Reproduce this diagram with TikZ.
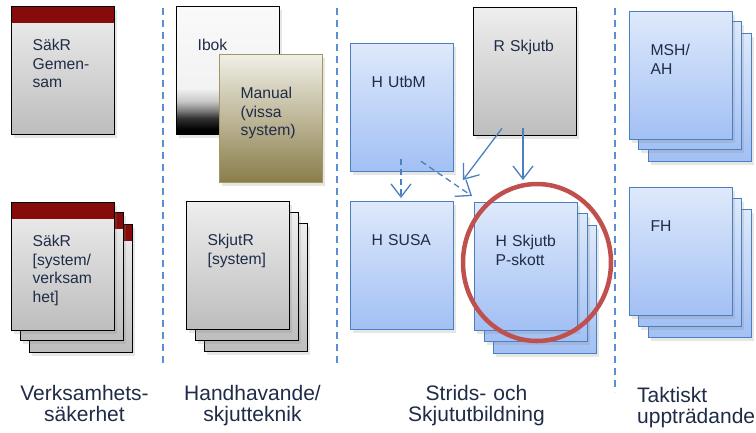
\documentclass[tikz,border=0pt]{standalone}
\usepackage{fontspec}
\setmainfont{Liberation Sans}
\usetikzlibrary{arrows.meta, shadows, shapes.geometric}

\definecolor{txtcol}{HTML}{1F2C47}
\definecolor{grayTop}{HTML}{EEEEEE}
\definecolor{grayBot}{HTML}{BDBDBD}
\definecolor{sakred}{HTML}{870B0B}
\definecolor{blueTop}{HTML}{DEE9FB}
\definecolor{blueBot}{HTML}{A2C0F4}
\definecolor{blueline}{HTML}{4C7FBE}
\definecolor{oliveTop}{HTML}{F0EFE6}
\definecolor{oliveBot}{HTML}{8A7D4A}
\definecolor{oliveline}{HTML}{A1985F}
\definecolor{sepcol}{HTML}{5A8ED2}
\definecolor{ringred}{HTML}{C0504D}
\colorlet{ibA}{black!80}
\colorlet{ibB}{black!50}
\colorlet{ibC}{black!22}
\colorlet{ibD}{black!5}
\colorlet{ibE}{black!2}
\pgfdeclareverticalshading{ibokshade}{100bp}{color(0bp)=(black); color(27bp)=(black); color(31.5bp)=(ibA); color(34.5bp)=(ibB); color(38bp)=(ibC); color(43bp)=(ibD); color(75bp)=(ibE); color(100bp)=(ibE)}

\newcommand\boxfont{\fontsize{15.7pt}{18.5pt}\selectfont}
\newcommand\catfont{\fontsize{21pt}{21.5pt}\selectfont}

\tikzset{
  doc/.style={rectangle, anchor=north west, inner xsep=21pt, inner ysep=0pt, text width=61pt, align=left,
    text height=44pt, text depth=84pt, font=\boxfont, text=txtcol, line width=1.3pt,
    drop shadow={shadow xshift=2.5pt, shadow yshift=-3pt, opacity=0.2}},
  graydoc/.style={doc, draw=black, top color=grayTop, bottom color=grayBot},
  sakrdoc/.style={graydoc, path picture={\fill[sakred] (path picture bounding box.north west) rectangle ([yshift=-16pt]path picture bounding box.north east);}},
  bluedoc/.style={doc, draw=blueline, top color=blueTop, bottom color=blueBot},
  olivedoc/.style={doc, draw=oliveline, top color=oliveTop, bottom color=oliveBot},
  ibokdoc/.style={doc, draw=black, shading=ibokshade},
  cat/.style={anchor=base, text width=170pt, align=center, inner sep=0pt, font=\catfont, text=txtcol},
  sep/.style={draw=sepcol, line width=1.6pt, dash pattern=on 7pt off 5pt},
  flow/.style={draw=blueline, line width=1.3pt, -{Straight Barb[length=13pt, width=20pt, line width=1.3pt]}},
  flowdash/.style={flow, dash pattern=on 6pt off 4pt}
}

\begin{document}
\begin{tikzpicture}[x=1pt, y=-1pt]
  \useasboundingbox (0,0) rectangle (756,432);

  \draw[sep] (163,8) -- (163,365);
  \draw[sep] (337,8) -- (337,363);
  \draw[sep] (615,8) -- (615,392);

  \node[sakrdoc] (sakrGem) at (11,6) {S\"akR\\Gemen-\\sam};
  \node[sakrdoc] (sakrSys3) at (29,224) {};
  \node[sakrdoc] (sakrSys2) at (20,212) {};
  \node[sakrdoc] (sakrSys1) at (11,202) {S\"akR\\{[system/}\\verksam\\het]};

  \node[ibokdoc] (ibok) at (176,6) {Ibok};
  \node[olivedoc] (manual) at (219,54) {Manual\\(vissa\\system)};
  \node[graydoc] (skjutR3) at (204,223) {};
  \node[graydoc] (skjutR2) at (195,212) {};
  \node[graydoc] (skjutR1) at (186,201) {SkjutR\\{[system]}};

  \node[bluedoc] (hUtbM) at (350,43) {H~UtbM};
  \node[graydoc, inner xsep=20pt, text width=63pt] (rSkjutb) at (473,7) {R~Skjutb};
  \node[bluedoc] (hSUSA) at (350,201) {H~SUSA};
  \node[bluedoc] (hSkjutb3) at (493,225) {};
  \node[bluedoc] (hSkjutb2) at (484,213) {};
  \node[bluedoc] (hSkjutb1) at (474,202) {H~Skjutb\\P-skott};

  \draw[flow] ([xshift=29pt, yshift=8pt]rSkjutb.south west) -- ([xshift=-11pt, yshift=22pt]hSkjutb1.north west);
  \draw[flow] ([xshift=50pt, yshift=8pt]rSkjutb.south west) -- ([xshift=49pt, yshift=22pt]hSkjutb1.north west);
  \draw[flowdash] ([xshift=51pt, yshift=13pt]hUtbM.south west) -- ([xshift=51pt, yshift=3pt]hSUSA.north west);
  \draw[flowdash] ([xshift=71pt, yshift=11pt]hUtbM.south west) -- ([xshift=-2pt, yshift=6pt]hSkjutb1.north west);

  \node[draw=ringred, ellipse, line width=4.5pt, minimum width=148pt, minimum height=157pt, inner sep=0pt] (ring) at (537,262.5) {};

  \node[bluedoc] (msh3) at (648,33) {};
  \node[bluedoc] (msh2) at (638,21) {};
  \node[bluedoc] (msh1) at (629,11) {MSH/\\AH};
  \node[bluedoc] (fh3) at (648,209) {};
  \node[bluedoc] (fh2) at (638,198) {};
  \node[bluedoc] (fh1) at (629,187) {FH};

  \node[cat] (catVerk) at (84.5,400) {Verksamhets-\\s\"akerhet};
  \node[cat] (catHand) at (252.5,400) {Handhavande/\\skjutteknik};
  \node[cat] (catStrid) at (476.5,400) {Strids- och\\Skjututbildning};
  \node[cat, anchor=base west, align=left] (catTakt) at (637,402) {Taktiskt\\uppträdande};
\end{tikzpicture}
\end{document}
